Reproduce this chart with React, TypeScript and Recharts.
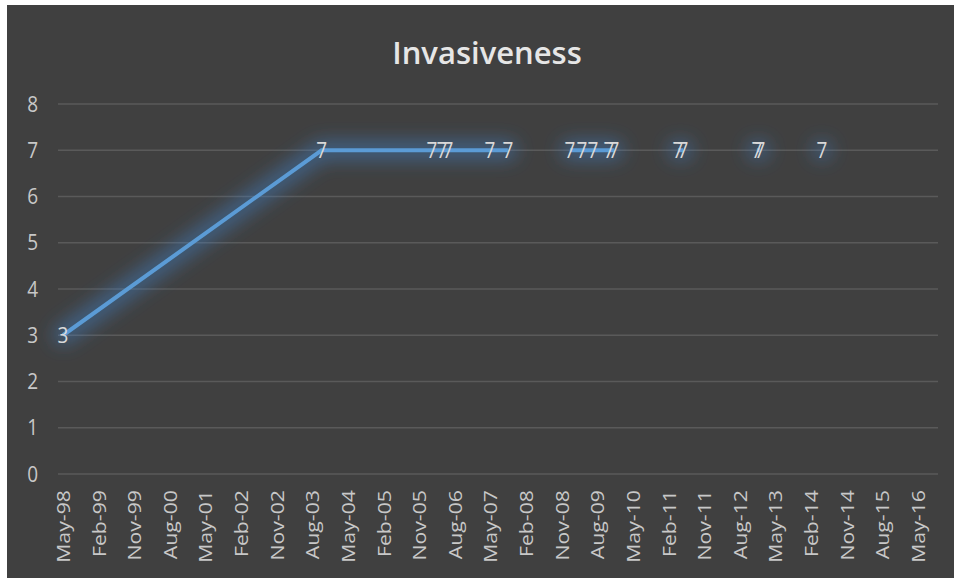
import React from 'react';
import { LineChart, Line, XAxis, YAxis, CartesianGrid, LabelList } from 'recharts';

// observation dates and scores; null rows break the line between runs
const dates = [
  '1998-05-16', '2003-10-25', '2006-02-19', '2006-05-07', '2006-06-22', '2007-05-11', '2007-09-26',
  '2008-05-01', '2009-01-15', '2009-04-17', '2009-07-11', '2009-11-11', '2009-12-19',
  '2010-08-01', '2011-04-25', '2011-06-03', '2012-03-01', '2012-12-22', '2013-01-14',
  '2013-09-01', '2014-05-06',
];
const invasiveness = [3, 7, 7, 7, 7, 7, 7, null, 7, 7, 7, 7, 7, null, 7, 7, null, 7, 7, null, 7];

const tickLabels = [
  'May-98', 'Feb-99', 'Nov-99', 'Aug-00', 'May-01', 'Feb-02', 'Nov-02', 'Aug-03', 'May-04',
  'Feb-05', 'Nov-05', 'Aug-06', 'May-07', 'Feb-08', 'Nov-08', 'Aug-09', 'May-10', 'Feb-11',
  'Nov-11', 'Aug-12', 'May-13', 'Feb-14', 'Nov-14', 'Aug-15', 'May-16',
];
const yTicks = [0, 1, 2, 3, 4, 5, 6, 7, 8];

const MONTHS = ['Jan', 'Feb', 'Mar', 'Apr', 'May', 'Jun', 'Jul', 'Aug', 'Sep', 'Oct', 'Nov', 'Dec'];

const toTime = (s: string) => {
  const [y, m, d] = s.split('-').map(Number);
  return Date.UTC(y, m - 1, d);
};

// "May-98" -> middle of that month
const labelToTime = (label: string) => {
  const [mon, yy] = label.split('-');
  const n = Number(yy);
  return Date.UTC(n > 50 ? 1900 + n : 2000 + n, MONTHS.indexOf(mon), 16);
};

const formatTick = (t: number) => {
  const d = new Date(t);
  return `${MONTHS[d.getUTCMonth()]}-${String(d.getUTCFullYear() % 100).padStart(2, '0')}`;
};

const data = dates.map((d, i) => ({ t: toTime(d), value: invasiveness[i] }));
const xTicks = tickLabels.map(labelToTime);
const xDomain = [Date.UTC(1998, 3, 8), Date.UTC(2016, 9, 14)];

const FONT = '"Open Sans", "Noto Sans", sans-serif';

// rotated date labels, stretched a little along the text
const XTick = ({ x, y, payload }: any) => (
  <text
    transform={`translate(${x} ${y}) rotate(-90) scale(1.12 1)`}
    textAnchor="end"
    dy="0.35em"
    fill="#c8c8c8"
    fontSize={19}
    fontFamily={FONT}
  >
    {formatTick(payload.value)}
  </text>
);

const YTick = ({ x, y, payload }: any) => (
  <text
    transform={`translate(${x} ${y}) scale(1 1.15)`}
    textAnchor="end"
    dy="0.35em"
    fill="#c8c8c8"
    fontSize={19}
    fontFamily={FONT}
  >
    {payload.value}
  </text>
);

const renderLabel = ({ x, y, value }: any) =>
  value == null ? null : (
    <text
      transform={`translate(${x} ${y}) scale(1 1.12)`}
      textAnchor="middle"
      dy="0.35em"
      fill="#d9d9d9"
      fontSize={19}
      fontFamily={FONT}
    >
      {value}
    </text>
  );

export default function App() {
  return (
    <div style={{ position: 'absolute', left: 0, top: 0, width: 954, height: 578, background: '#ffffff' }}>
      <div style={{ position: 'absolute', left: 7, top: 5, width: 947, height: 573, background: '#404040' }}>
        <div
          style={{
            position: 'absolute',
            left: 480,
            top: 28,
            transform: 'translateX(-50%)',
            color: '#e6e6e6',
            fontFamily: FONT,
            fontWeight: 600,
            fontSize: 31,
            lineHeight: '38px',
            whiteSpace: 'nowrap',
          }}
        >
          Invasiveness
        </div>
        <LineChart width={947} height={573} data={data} margin={{ top: 99, right: 16, bottom: 0, left: 0 }}>
          <defs>
            <filter id="lineGlow" filterUnits="userSpaceOnUse" x="0" y="0" width="947" height="573">
              <feGaussianBlur stdDeviation="9" />
            </filter>
          </defs>
          <CartesianGrid horizontal vertical={false} stroke="#5a5a5a" strokeWidth={1.5} />
          <XAxis
            dataKey="t"
            type="number"
            scale="time"
            domain={xDomain}
            ticks={xTicks}
            interval={0}
            height={104}
            axisLine={false}
            tickLine={false}
            tickSize={0}
            tickMargin={16}
            tick={<XTick />}
          />
          <YAxis
            type="number"
            domain={[0, 8]}
            ticks={yTicks}
            width={51}
            axisLine={false}
            tickLine={false}
            tickSize={0}
            tickMargin={20}
            tick={<YTick />}
          />
          {/* soft halo under the series */}
          <Line
            dataKey="value"
            stroke="#3f86d0"
            strokeWidth={20}
            strokeOpacity={0.45}
            strokeLinecap="round"
            filter="url(#lineGlow)"
            dot={false}
            activeDot={false}
            connectNulls={false}
            isAnimationActive={false}
          />
          <Line
            dataKey="value"
            stroke="#5b9bd5"
            strokeWidth={4}
            dot={false}
            activeDot={false}
            connectNulls={false}
            isAnimationActive={false}
          >
            <LabelList dataKey="value" content={renderLabel} />
          </Line>
        </LineChart>
      </div>
    </div>
  );
}
